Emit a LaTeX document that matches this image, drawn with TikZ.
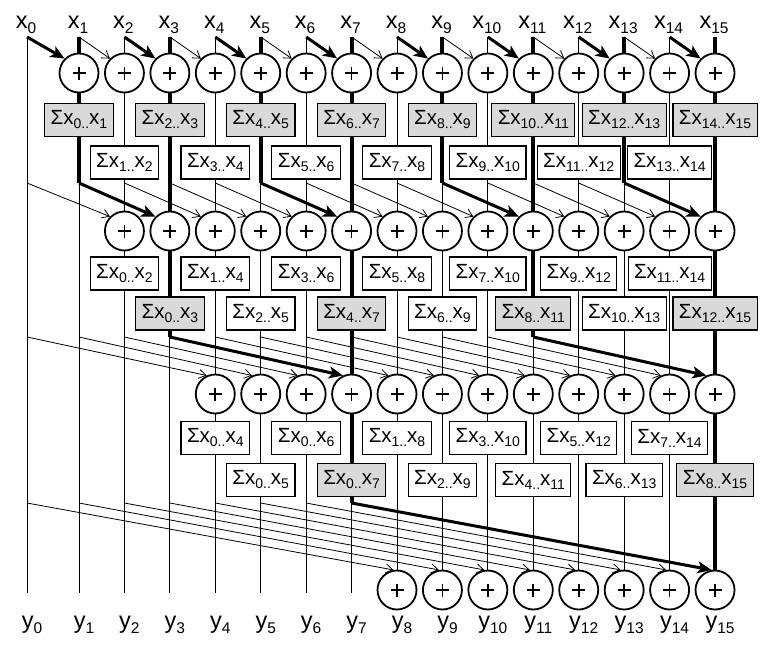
\documentclass[tikz,border=0pt]{standalone}
\usepackage{fontspec}
\setmainfont{Liberation Sans}
\usetikzlibrary{arrows.meta,backgrounds}
\newcommand\lsub[1]{\raisebox{-5pt}{\fontsize{15.5}{15.5}\selectfont #1}}
\newcommand\bsub[1]{\raisebox{-4pt}{\fontsize{14}{14}\selectfont #1}}
\newcommand\sumx[2]{Σx\bsub{#1..}x\bsub{#2}}
\pgfmathdeclarefunction{colx}{1}{\pgfmathparse{(#1==0)?27:(79+45.43*(#1-1))}}
\begin{document}
\begin{tikzpicture}[x=1pt,y=-1pt,
  lbl/.style={font=\fontsize{23.5}{23.5}\selectfont, inner sep=0pt, anchor=base},
  adder/.style={circle, draw, line width=1.8pt, fill=white, minimum size=39pt, inner sep=0pt,
    path picture={\draw[line width=1.7pt]
      ([xshift=-6.5pt]path picture bounding box.center) -- ([xshift=6.5pt]path picture bounding box.center)
      ([yshift=-6.5pt]path picture bounding box.center) -- ([yshift=6.5pt]path picture bounding box.center);}},
  sbox/.style={draw, line width=1.1pt, fill=white, minimum height=33pt, inner xsep=6pt, inner ysep=0pt,
    font=\fontsize{20.5}{20.5}\selectfont},
  gbox/.style={sbox, fill=black!15},
  wire/.style={line width=0.8pt},
  bold/.style={line width=4pt},
  tarr/.style={line width=0.8pt, -{Straight Barb[length=7pt,width=9pt]}},
  karr/.style={line width=3pt, -{Stealth[length=14pt,width=12pt,inset=3.5pt]}},
]
\useasboundingbox (0,0) rectangle (776,648);
% columns, labels
\foreach \i in {0,...,15} {
  \coordinate (t\i) at ({colx(\i)},37);
  \coordinate (s2-\i) at ({colx(\i)},183);
  \coordinate (s3-\i) at ({colx(\i)},337);
  \coordinate (s4-\i) at ({colx(\i)},503);
  \coordinate (b\i) at ({colx(\i)},593);
  \node[lbl] (xl\i) at ({colx(\i)-1},28) {x\lsub{\i}};
  \node[lbl] (yl\i) at ({colx(\i)+5},628) {y\lsub{\i}};
}
% adders
\foreach \i in {1,...,15} \node[adder] (A1-\i) at ({colx(\i)},73) {};
\foreach \i in {2,...,15} \node[adder] (A2-\i) at ({colx(\i)},231) {};
\foreach \i in {4,...,15} \node[adder] (A3-\i) at ({colx(\i)},394) {};
\foreach \i in {8,...,15} \node[adder] (A4-\i) at ({colx(\i)},590) {};
% level 1 boxes
\foreach \i in {1,...,15} {
  \pgfmathtruncatemacro\p{\i-1}
  \pgfmathtruncatemacro\o{mod(\i,2)}
  \ifnum\o=1
    \node[gbox] (B1-\i) at ({colx(\i)},120) {\sumx{\p}{\i}};
  \else
    \node[sbox] (B1-\i) at ({colx(\i)},162.5) {\sumx{\p}{\i}};
  \fi
}
% level 2 boxes
\foreach \i in {2,...,15} {
  \pgfmathtruncatemacro\p{max(0,\i-3)}
  \pgfmathtruncatemacro\o{mod(\i,2)}
  \pgfmathtruncatemacro\q{mod(\i,4)}
  \ifnum\o=0
    \node[sbox] (B2-\i) at ({colx(\i)},273.5) {\sumx{\p}{\i}};
  \else
    \ifnum\q=3
      \node[gbox] (B2-\i) at ({colx(\i)},313.5) {\sumx{\p}{\i}};
    \else
      \node[sbox] (B2-\i) at ({colx(\i)},313.5) {\sumx{\p}{\i}};
    \fi
  \fi
}
% level 3 boxes
\foreach \i in {4,...,15} {
  \pgfmathtruncatemacro\p{max(0,\i-7)}
  \pgfmathtruncatemacro\o{mod(\i,2)}
  \pgfmathtruncatemacro\q{mod(\i,8)}
  \ifnum\o=0
    \node[sbox] (B3-\i) at ({colx(\i)},438) {\sumx{\p}{\i}};
  \else
    \ifnum\q=7
      \node[gbox] (B3-\i) at ({colx(\i)},480) {\sumx{\p}{\i}};
    \else
      \node[sbox] (B3-\i) at ({colx(\i)},480) {\sumx{\p}{\i}};
    \fi
  \fi
}
% vertical wires
\begin{scope}[on background layer]
  \foreach \i in {0,...,7} \draw[wire] (t\i) -- (b\i);
  \foreach \i in {8,...,15} \draw[wire] (t\i) -- (A4-\i.center);
  \foreach \i in {1,5,9,13} \draw[bold] (t\i) -- (s2-\i);
  \foreach \i in {3,11} \draw[bold] (t\i) -- (s3-\i);
  \draw[bold] (t7) -- (s4-7);
  \draw[bold] (t15) -- (A4-15.center);
\end{scope}
% level 1 arrows
\foreach \i in {1,...,15} {
  \pgfmathtruncatemacro\p{\i-1}
  \pgfmathtruncatemacro\o{mod(\i,2)}
  \ifnum\o=1 \draw[karr] (t\p) -- (A1-\i.135);
  \else \draw[tarr] (t\p) -- (A1-\i.135); \fi
}
% level 2 arrows
\foreach \i in {2,...,15} {
  \pgfmathtruncatemacro\p{\i-2}
  \pgfmathtruncatemacro\q{mod(\i,4)}
  \ifnum\q=3 \draw[karr] (s2-\p) -- (A2-\i.135);
  \else \draw[tarr] (s2-\p) -- (A2-\i.135); \fi
}
% level 3 arrows
\foreach \i in {4,...,15} {
  \pgfmathtruncatemacro\p{\i-4}
  \pgfmathtruncatemacro\q{mod(\i,8)}
  \ifnum\q=7 \draw[karr] (s3-\p) -- (A3-\i.115);
  \else \draw[tarr] (s3-\p) -- (A3-\i.115); \fi
}
% level 4 arrows
\foreach \i in {8,...,15} {
  \pgfmathtruncatemacro\p{\i-8}
  \ifnum\i=15 \draw[karr] (s4-\p) -- (A4-\i.100);
  \else \draw[tarr] (s4-\p) -- (A4-\i.100); \fi
}
\end{tikzpicture}
\end{document}
